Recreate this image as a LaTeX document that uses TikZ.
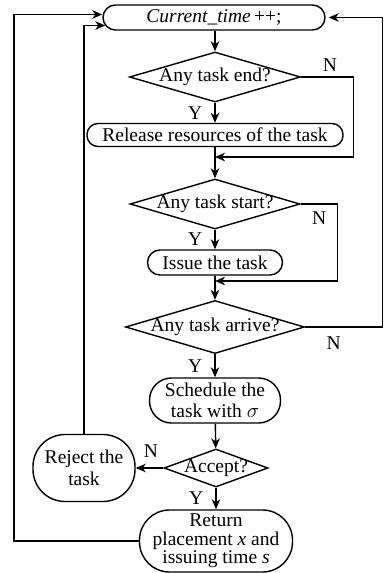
\documentclass[tikz,border=0pt]{standalone}
\usepackage{fontspec}
\setmainfont{Liberation Serif}
\usetikzlibrary{arrows.meta}
\usetikzlibrary{shapes.geometric}
\usetikzlibrary{calc}

\begin{document}
\begin{tikzpicture}[x=1pt,y=1pt,yscale=-1,xscale=1,
  font=\fontsize{19.5}{21.5}\selectfont,
  proc/.style={draw,line width=1.4pt,inner sep=0pt,align=center,rounded corners=#1},
  proc/.default=11pt,
  decide/.style={draw,line width=1.4pt,diamond,aspect=3.4,inner sep=-3pt},
  flow/.style={line width=1.4pt,-{Stealth[length=10pt,width=8.5pt,inset=3pt]}},
  lbl/.style={inner sep=0pt}]
\useasboundingbox (0,0) rectangle (385,573);

%Rounded Rect
\draw (214,17.5) node [proc=12.5pt,minimum width=222,minimum height=25] (cur) {\textit{Current\_time}\,++;};
%Shape: Diamond
\draw (215,77) node [decide,minimum width=171,minimum height=50] (q1) {Any task end?};
%Rounded Rect
\draw (215,135) node [proc,minimum width=256,minimum height=23] (rel) {Release resources of the task};
%Shape: Diamond
\draw (215,204) node [decide,minimum width=170,minimum height=50] (q2) {Any task start?};
%Rounded Rect
\draw (215,262.5) node [proc=12.5pt,minimum width=135,minimum height=25] (iss) {Issue the task};
%Shape: Diamond
\draw (215,327) node [decide,minimum width=179,minimum height=53] (q3) {Any task arrive?};
%Rounded Rect
\draw (215,400.5) node [proc=22pt,minimum width=131,minimum height=45] (sch) {Schedule the\\task with $\sigma$};
%Shape: Diamond
\draw (216,468) node [decide,aspect=2.7,minimum width=104,minimum height=38] (acc) {Accept?};
%Rounded Rect
\draw (84,468) node [proc=32pt,minimum width=102,minimum height=67] (rej) {Reject the\\task};
%Rounded Rect
\draw (216,541) node [proc=30pt,minimum width=153,minimum height=62,font=\fontsize{19.5}{18.5}\selectfont] (ret) {Return\\placement \textit{x} and\\issuing time \textit{s}};

%Junctions
\coordinate (j1) at (215,157);
\coordinate (j2) at (215,281);

%Straight Lines
\draw [flow] (cur.south -| q1.north) -- (q1);
\draw [flow] (q1) -- node [lbl,left=12pt] {Y} (rel);
\draw [flow] (q1.east) -- node [lbl,above=5pt,pos=0.55] {N} ++(52,0) |- (j1);
\draw [flow] (rel) -- (q2);
\draw [flow] (q2) -- node [lbl,left=12pt] {Y} (iss);
\draw [flow] (q2.east) -- node [lbl,below=7pt,pos=0.5] {N} ++(37,0) |- (j2);
\draw [flow] (iss) -- (q3);
\draw [flow] (q3) -- node [lbl,left=12pt] {Y} (sch);
\draw [flow] (q3.east) -- node [lbl,below=9pt,pos=0.37] {N} ++(77,0) |- ([xshift=3pt]cur.east);
\draw [flow] (sch) -- (acc);
\draw [flow] (acc) -- node [lbl,above=10pt,pos=0.45] {N} (rej);
\draw [flow] (acc) -- node [lbl,left=12pt] {Y} (ret);
\draw [flow] (rej.north) |- ($(cur.west)+(3,8)$);
\draw [flow] (ret.west) -- ++(-125,0) |- ($(cur.west)+(0,-3)$);

\end{tikzpicture}
\end{document}
